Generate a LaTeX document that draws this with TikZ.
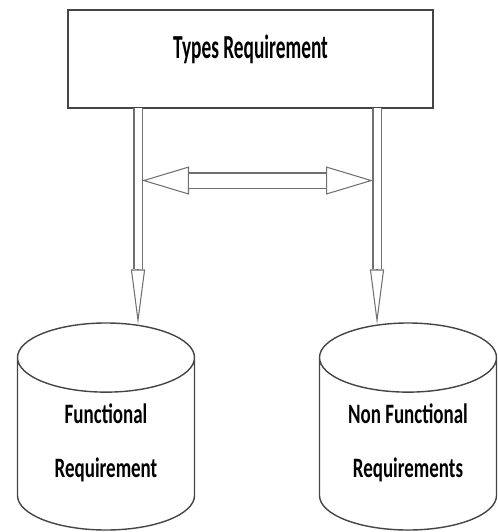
\documentclass[tikz,border=0pt]{standalone}
\usepackage{fontspec}
\setmainfont{Carlito}
\usepackage{graphicx}
\usetikzlibrary{arrows.meta,shapes.geometric,calc}

\definecolor{edgegray}{HTML}{454545}
\definecolor{arrowgray}{HTML}{707070}
\newcommand{\tallA}[1]{\scalebox{1}[1.48]{#1}}
\newcommand{\tallB}[1]{\scalebox{1}[1.74]{#1}}

\begin{document}
\begin{tikzpicture}[x=0.03cm,y=-0.03cm,
    typebox/.style={rectangle, draw=edgegray, line width=2pt, minimum width=10.95cm, minimum height=2.94cm, outer sep=0pt},
    store/.style={cylinder, shape border rotate=90, draw=edgegray, line width=1.2pt, aspect=2.95,
        minimum width=5.31cm, minimum height=6.21cm, outer sep=0pt, inner sep=10pt, anchor=shape center},
    label text/.style={align=center, inner sep=0pt, font=\fontsize{16.2}{46}\selectfont\bfseries},
    headline/.style 2 args={draw=arrowgray, line width=0.9pt, -{Triangle[open, length=#1, width=#2]}},
    headline2/.style 2 args={draw=arrowgray, line width=0.9pt, {Triangle[open, length=#1, width=#2]}-{Triangle[open, length=#1, width=#2]}},
    arrowshaft/.style={draw=arrowgray, line width=0.9pt, double=white, double distance=#1}]
    \useasboundingbox (0,0) rectangle (497,532);
    \node[typebox] (types) at (250.5,59) {};
    \node[anchor=base, inner sep=0pt, font=\fontsize{16.5}{18}\selectfont\bfseries] (title) at (250.5,58) {\tallB{Types Requirement}};
    \node[store] (fr) at (106,426.5) {};
    \node[store] (nfr) at (408,426.5) {};
    \node[label text] (frtext) at (106,443) {\tallA{Functional}\\\tallA{Requirement}};
    \node[label text] (nfrtext) at (408,443) {\tallA{Non Functional}\\\tallA{Requirements}};
    \coordinate (lt) at ($(fr.north)+(32,1.5)$);
    \coordinate (rt) at ($(nfr.north)+(-31,1.5)$);
    \draw[headline={1.65cm}{0.42cm}] (types.south -| lt) -- (lt);
    \draw[arrowshaft=0.21cm, shorten >=1.65cm] (types.south -| lt) -- coordinate[pos=0.335] (hl) (lt);
    \draw[headline={1.65cm}{0.42cm}] (types.south -| rt) -- (rt);
    \draw[arrowshaft=0.21cm, shorten >=1.65cm] (types.south -| rt) -- coordinate[pos=0.335] (hr) (rt);
    \draw[headline2={1.41cm}{0.84cm}] ([xshift=0.12cm]hl) -- ([xshift=-0.12cm]hr);
    \draw[arrowshaft=0.42cm, shorten >=1.41cm, shorten <=1.41cm] ([xshift=0.12cm]hl) -- ([xshift=-0.12cm]hr);
\end{tikzpicture}
\end{document}
